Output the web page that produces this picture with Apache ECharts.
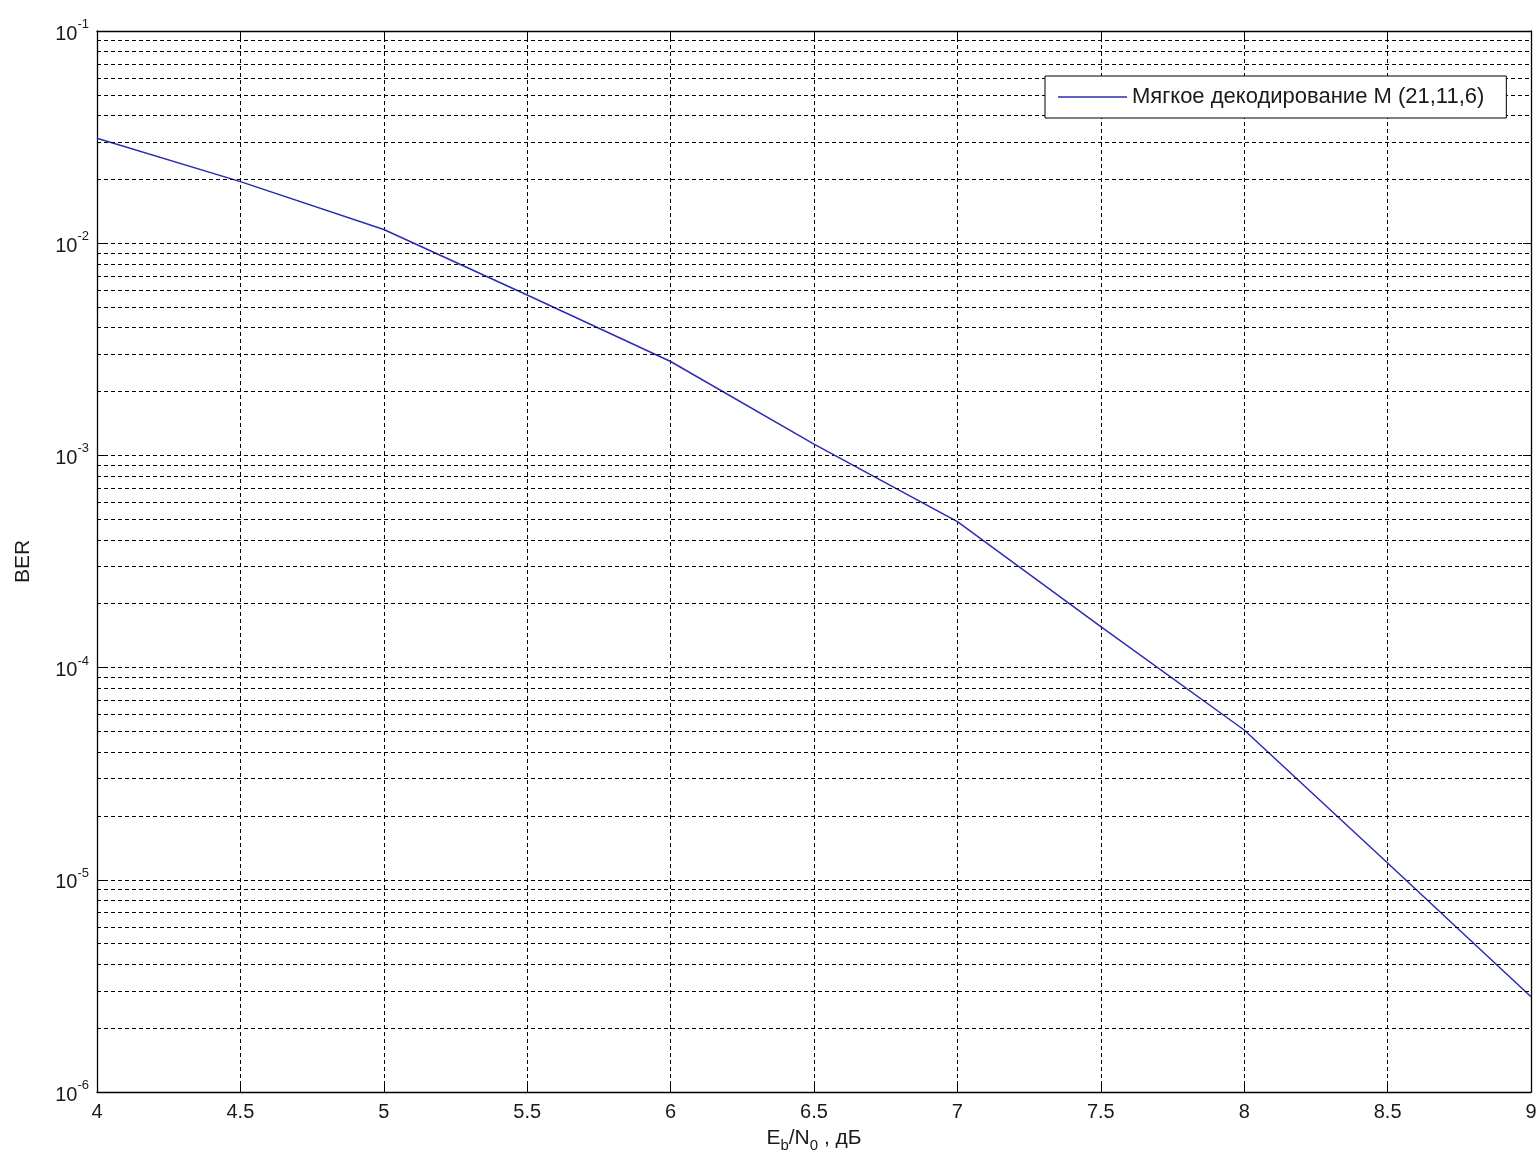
<!DOCTYPE html>
<html>
<head>
<meta charset="utf-8">
<script src="https://cdn.jsdelivr.net/npm/echarts@6/dist/echarts.min.js"></script>
<style>
  html, body { margin: 0; padding: 0; background: #fff; }
  #chart { width: 1540px; height: 1164px; }
</style>
</head>
<body>
<div id="chart"></div>
<script>
// Eb/N0, dB
const ebno = [4, 4.5, 5, 5.5, 6, 6.5, 7, 7.5, 8, 8.5, 9]
// BER
const ber = [3.12e-2, 1.95e-2, 1.16e-2, 5.7e-3, 2.77e-3, 1.13e-3, 4.87e-4, 1.56e-4, 5.08e-5, 1.2e-5, 2.81e-6]
const seriesName = 'Мягкое декодирование М (21,11,6)'

// minor grid lines 2..9 in every decade
const decades = [1e-6, 1e-5, 1e-4, 1e-3, 1e-2]
const minorSteps = [2, 3, 4, 5, 6, 7, 8, 9]

const black = '#000'
const txt = '#1a1a1a'
const blue = '#2b2bb3'
const dash = [4, 3]
const font = 'Arial, "Liberation Sans", sans-serif'

const minorLines = []
decades.forEach(d => minorSteps.forEach(k => minorLines.push({ yAxis: d * k })))

const chart = echarts.init(document.getElementById('chart'))

const option = {
  backgroundColor: '#fff',
  animation: false,
  textStyle: { fontFamily: font },
  grid: { left: 97, right: 9, top: 31, bottom: 72, containLabel: false },
  legend: {
    left: 1045, top: 76,
    z: 10,
    backgroundColor: '#fff',
    borderColor: black, borderWidth: 1,
    padding: [10, 22, 10, 13],
    icon: 'rect',
    itemWidth: 69, itemHeight: 1.5,
    textStyle: { fontSize: 22, color: txt, fontFamily: font, lineHeight: 22 },
    data: [seriesName]
  },
  xAxis: [
    {
      type: 'value', min: 4, max: 9, interval: 0.5,
      name: '{n|E}{sub|b}{n|/N}{sub|0}{n| , дБ}',
      nameLocation: 'middle', nameGap: 32,
      nameTextStyle: {
        rich: {
          n: { fontSize: 21, color: txt, fontFamily: font },
          sub: { fontSize: 15, color: txt, fontFamily: font, padding: [14, 0, 0, 0] }
        }
      },
      axisLine: { lineStyle: { color: black, width: 1.3 } },
      axisTick: { inside: true, length: 8, lineStyle: { color: black } },
      axisLabel: { fontSize: 20, color: txt, margin: 10, formatter: v => String(v) },
      splitLine: { show: true, lineStyle: { color: black, type: dash, width: 1 } }
    },
    {
      type: 'value', min: 4, max: 9, interval: 0.5, position: 'top',
      axisLine: { lineStyle: { color: black, width: 1.3 } },
      axisTick: { inside: true, length: 8, lineStyle: { color: black } },
      axisLabel: { show: false },
      splitLine: { show: false }
    }
  ],
  yAxis: [
    {
      type: 'log', logBase: 10, min: 1e-6, max: 1e-1,
      name: 'BER', nameLocation: 'middle', nameGap: 63, nameRotate: 90,
      nameTextStyle: { fontSize: 21, color: txt },
      axisLine: { show: true, lineStyle: { color: black, width: 1.3 } },
      axisTick: { inside: true, length: 8, lineStyle: { color: black } },
      axisLabel: {
        margin: 8,
        formatter: v => '{b|10}{s|' + Math.round(Math.log10(v)) + '}',
        rich: {
          b: { fontSize: 20, color: txt, fontFamily: font, verticalAlign: 'bottom' },
          s: { fontSize: 13, color: txt, fontFamily: font, verticalAlign: 'bottom', padding: [0, 0, 13, 0] }
        }
      },
      splitLine: { show: true, lineStyle: { color: black, type: dash, width: 1 } }
    },
    {
      type: 'log', logBase: 10, min: 1e-6, max: 1e-1, position: 'right',
      axisLine: { show: true, lineStyle: { color: black, width: 1.3 } },
      axisTick: { inside: true, length: 8, lineStyle: { color: black } },
      axisLabel: { show: false },
      splitLine: { show: false }
    }
  ],
  series: [
    {
      name: seriesName,
      type: 'line',
      data: ebno.map((x, i) => [x, ber[i]]),
      symbol: 'none',
      lineStyle: { color: blue, width: 1.5 },
      itemStyle: { color: blue },
      markLine: {
        silent: true,
        symbol: 'none',
        precision: 12,
        label: { show: false },
        lineStyle: { color: black, type: dash, width: 1 },
        data: minorLines
      }
    }
  ]
}

chart.setOption(option)
</script>
</body>
</html>
